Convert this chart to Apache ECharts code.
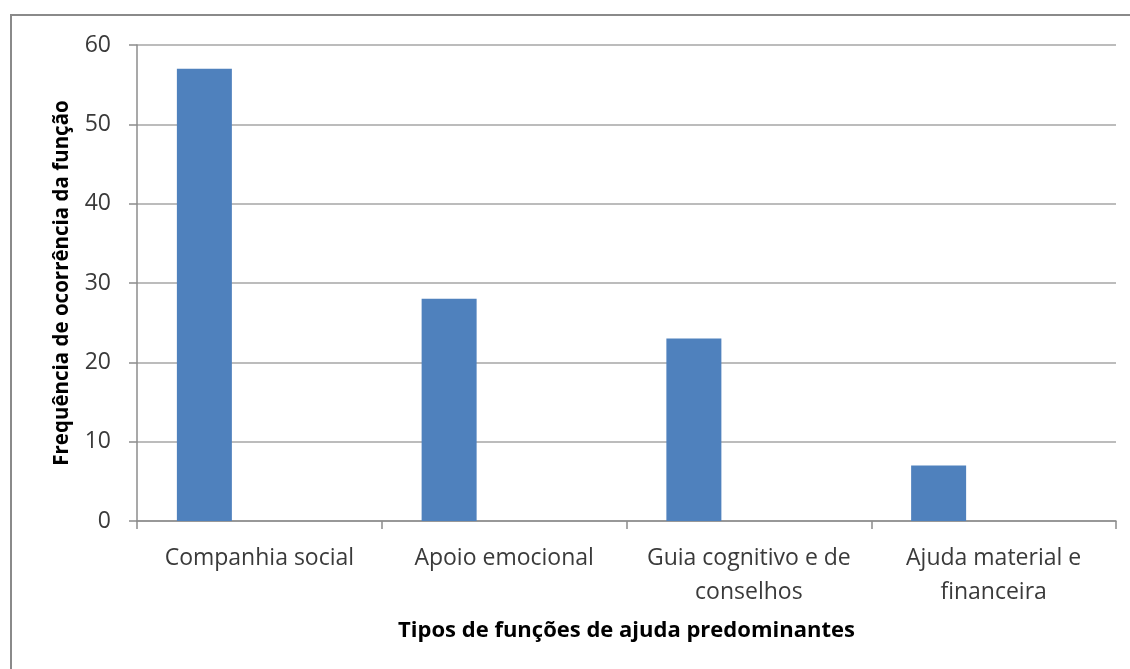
<!DOCTYPE html>
<html>
<head>
<meta charset="utf-8">
<script src="https://cdn.jsdelivr.net/npm/echarts@6/dist/echarts.min.js"></script>
<style>
  html, body { margin: 0; padding: 0; background: #fff; }
  #chart { width: 1130px; height: 669px; }
</style>
</head>
<body>
<div id="chart"></div>
<script>
const categories = ['Companhia social', 'Apoio emocional', 'Guia cognitivo e de\nconselhos', 'Ajuda material e\nfinanceira'];
const frequencia = [57, 28, 23, 7];
const yTicks = {min: 0, max: 60, interval: 10};

const font = "'Open Sans', 'Noto Sans', sans-serif";
const chart = echarts.init(document.getElementById('chart'));

chart.setOption({
  animation: false,
  backgroundColor: '#fff',
  graphic: [{
    type: 'rect',
    silent: true,
    shape: {x: 11, y: 15, width: 1200, height: 720},
    style: {fill: 'none', stroke: '#8a8a8a', lineWidth: 2},
  }],
  grid: {left: 137, right: 14, top: 45, bottom: 148},
  xAxis: {
    type: 'category',
    data: categories,
    name: 'Tipos de funções de ajuda predominantes',
    nameLocation: 'middle',
    nameGap: 99,
    nameTextStyle: {color: '#000', fontSize: 22, fontWeight: 'bold', fontFamily: font},
    axisLine: {lineStyle: {color: '#8c8c8c', width: 1.5}},
    axisTick: {show: true, interval: 0, length: 8, lineStyle: {color: '#8c8c8c', width: 1.5}},
    axisLabel: {interval: 0, color: '#3a3a3a', fontSize: 23, fontFamily: font, margin: 20, lineHeight: 34},
  },
  yAxis: {
    type: 'value',
    min: yTicks.min,
    max: yTicks.max,
    interval: yTicks.interval,
    name: 'Frequência de ocorrência da função',
    nameLocation: 'middle',
    nameGap: 64,
    nameTextStyle: {color: '#000', fontSize: 20.5, fontWeight: 'bold', fontFamily: font},
    axisLine: {show: true, lineStyle: {color: '#8c8c8c', width: 1.5}},
    axisTick: {show: true, length: 8, lineStyle: {color: '#8c8c8c', width: 1.5}},
    axisLabel: {color: '#3a3a3a', fontSize: 23, fontFamily: font, margin: 26},
    splitLine: {lineStyle: {color: '#a6a6a6', width: 1.5}},
  },
  series: [
    {type: 'bar', data: frequencia, barWidth: 55, barGap: '0%', itemStyle: {color: '#4f81bd'}},
    {type: 'bar', data: [], barWidth: 55, barGap: '0%'},
    {type: 'bar', data: [], barWidth: 55, barGap: '0%'},
  ],
});
</script>
</body>
</html>
